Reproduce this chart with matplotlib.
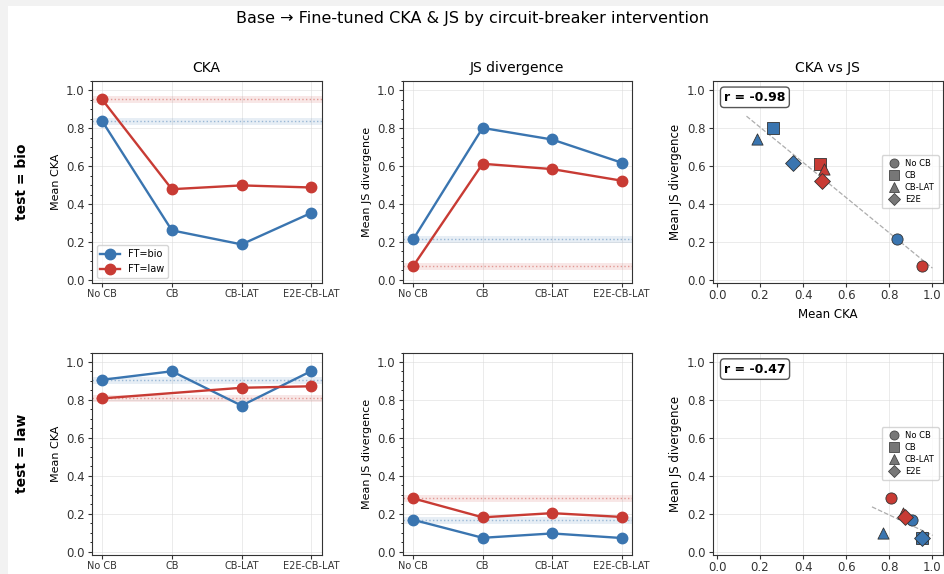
import numpy as np
import matplotlib
matplotlib.use("Agg")
import matplotlib.pyplot as plt
from matplotlib.lines import Line2D
from matplotlib.patches import Rectangle
from matplotlib.ticker import MultipleLocator

interventions = ["No CB", "CB", "CB-LAT", "E2E-CB-LAT"]
short_names = ["No CB", "CB", "CB-LAT", "E2E"]
markers = ["o", "s", "^", "D"]
test_sets = ["bio", "law"]
ft_sets = ["bio", "law"]

# mean CKA / JS, indexed [test][ft]
cka_test_bio_ft_bio = [0.837, 0.261, 0.187, 0.353]
cka_test_bio_ft_law = [0.951, 0.478, 0.498, 0.487]
js_test_bio_ft_bio = [0.213, 0.801, 0.740, 0.618]
js_test_bio_ft_law = [0.072, 0.612, 0.584, 0.523]

cka_test_law_ft_bio = [0.906, 0.951, 0.770, 0.952]
cka_test_law_ft_law = [0.808, np.nan, 0.864, 0.872]
js_test_law_ft_bio = [0.168, 0.073, 0.096, 0.072]
js_test_law_ft_law = [0.281, 0.181, 0.203, 0.183]

cka = {
    "bio": {"bio": cka_test_bio_ft_bio, "law": cka_test_bio_ft_law},
    "law": {"bio": cka_test_law_ft_bio, "law": cka_test_law_ft_law},
}
js = {
    "bio": {"bio": js_test_bio_ft_bio, "law": js_test_bio_ft_law},
    "law": {"bio": js_test_law_ft_bio, "law": js_test_law_ft_law},
}

colors = {"bio": "#3a75b0", "law": "#c83b34"}

W, H = 945, 574
fig = plt.figure(figsize=(W / 100, H / 100), dpi=100, facecolor="#f2f2f2")
fig.patches.append(Rectangle((8 / W, 0), 1, 1 - 6 / H, transform=fig.transFigure,
                             facecolor="white", edgecolor="none", zorder=-10))

col_x = [91.7, 402.7, 712.7]
col_w = [230.0, 229.3, 230.3]
row_top = [80.7, 352.5]
ax_h = 202.0


def make_axes(row, col):
    x0 = col_x[col] / W
    y0 = 1 - (row_top[row] + ax_h) / H
    return fig.add_axes([x0, y0, col_w[col] / W, ax_h / H])


def style_axes(ax):
    ax.grid(True, color="#dddddd", linewidth=0.6, alpha=0.7)
    ax.set_axisbelow(True)
    for spine in ax.spines.values():
        spine.set_color("#333333")
    ax.tick_params(colors="#333333", labelsize=8.5, length=3, pad=2)
    ax.tick_params(axis="x", pad=1.5)
    ax.tick_params(which="minor", length=1.8)


def line_panel(ax, values, ylabel):
    x = np.arange(len(interventions))
    for ft in ft_sets:
        y = np.array(values[ft], dtype=float)
        ok = ~np.isnan(y)
        ax.axhline(y[0], color=colors[ft], linewidth=5, alpha=0.12, zorder=1)
        ax.axhline(y[0], color=colors[ft], linewidth=1, linestyle=":", alpha=0.45, zorder=1)
        ax.plot(x[ok], y[ok], marker="o", markersize=7.5, linewidth=1.7,
                color=colors[ft], label=f"FT={ft}", zorder=3)
    ax.set_xticks(x, interventions)
    ax.set_ylim(-0.015, 1.05)
    ax.yaxis.set_major_locator(MultipleLocator(0.2))
    ax.yaxis.set_minor_locator(MultipleLocator(0.05))
    ax.set_ylabel(ylabel, fontsize=8)
    style_axes(ax)
    ax.tick_params(axis="x", labelsize=7)


def scatter_panel(ax, cka_vals, js_vals, with_xlabel):
    xs, ys = [], []
    for ft in ft_sets:
        for i, m in enumerate(markers):
            cx, jy = cka_vals[ft][i], js_vals[ft][i]
            if np.isnan(cx) or np.isnan(jy):
                continue
            ax.scatter(cx, jy, marker=m, s=65, color=colors[ft],
                       edgecolor="#333333", linewidth=0.6, zorder=3)
            xs.append(cx)
            ys.append(jy)
    xs, ys = np.array(xs), np.array(ys)
    r = np.corrcoef(xs, ys)[0, 1]
    slope, intercept = np.polyfit(xs, ys, 1)
    fx = np.array([xs.min() - 0.05, xs.max() + 0.05])
    ax.plot(fx, slope * fx + intercept, linestyle="--", color="#999999",
            linewidth=0.9, alpha=0.8, zorder=2)
    ax.text(0.05, 0.95, f"r = {r:.2f}", transform=ax.transAxes, fontsize=9,
            fontweight="bold", va="top", ha="left",
            bbox=dict(boxstyle="round,pad=0.3", facecolor="white", edgecolor="#555555"))
    handles = [Line2D([], [], linestyle="none", marker=m, markersize=6.5,
                      markerfacecolor="#777777", markeredgecolor="#444444",
                      markeredgewidth=0.6, label=n)
               for m, n in zip(markers, short_names)]
    ax.legend(handles=handles, loc="center right", fontsize=6, frameon=True,
              handletextpad=0.3, borderpad=0.5, labelspacing=0.35)
    ax.set_xlim(-0.02, 1.05)
    ax.set_ylim(-0.015, 1.05)
    ax.xaxis.set_major_locator(MultipleLocator(0.2))
    ax.yaxis.set_major_locator(MultipleLocator(0.2))
    ax.set_ylabel("Mean JS divergence", fontsize=8.5)
    if with_xlabel:
        ax.set_xlabel("Mean CKA", fontsize=8.5)
    style_axes(ax)


for row, test in enumerate(test_sets):
    ax_cka = make_axes(row, 0)
    line_panel(ax_cka, cka[test], "Mean CKA")
    ax_js = make_axes(row, 1)
    line_panel(ax_js, js[test], "Mean JS divergence")
    ax_sc = make_axes(row, 2)
    scatter_panel(ax_sc, cka[test], js[test], row == 0)

    if row == 0:
        ax_cka.set_title("CKA", fontsize=10)
        ax_js.set_title("JS divergence", fontsize=10)
        ax_sc.set_title("CKA vs JS", fontsize=10)
        ax_cka.legend(loc="lower left", fontsize=7, frameon=True)

    yc = 1 - (row_top[row] + ax_h / 2) / H
    fig.text(22 / W, yc, f"test = {test}", rotation=90, fontsize=10,
             fontweight="bold", ha="center", va="center")

fig.suptitle("Base \u2192 Fine-tuned CKA & JS by circuit-breaker intervention",
             fontsize=11.5, y=1 - 19 / H, va="center")

fig.savefig("out.png", dpi=100, facecolor=fig.get_facecolor())
